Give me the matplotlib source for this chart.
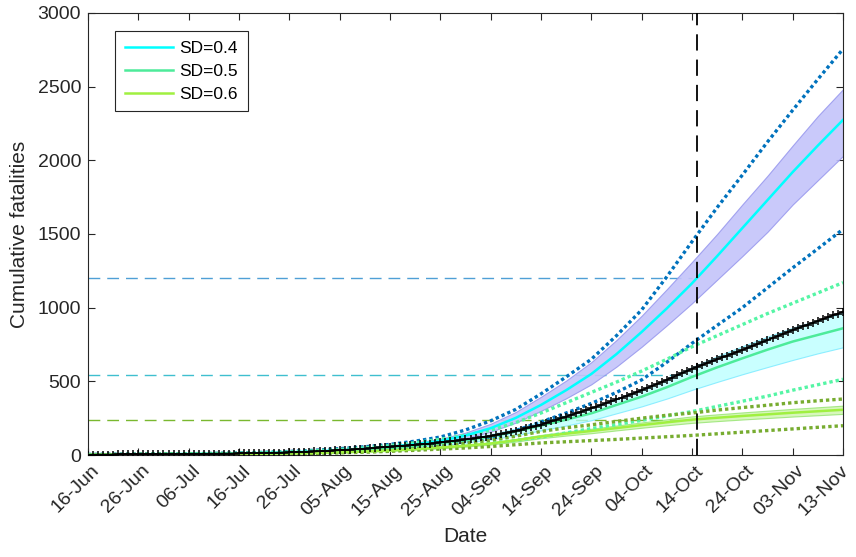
import numpy as np
import pandas as pd
import matplotlib
matplotlib.use("Agg")
import matplotlib.pyplot as plt
import matplotlib.dates as mdates
import matplotlib.transforms as mtransforms

plt.rcParams['font.family'] = ['Liberation Sans', 'DejaVu Sans']

# observed daily cumulative fatalities, 16-Jun .. 13-Nov
obs_start = '2020-06-16'
observed = [
    2, 2, 3, 3, 3, 3, 4, 4, 4, 5,
    5, 5, 5, 6, 6, 6, 6, 7, 7, 7,
    7, 8, 8, 8, 9, 9, 9, 10, 10, 10,
    11, 11, 12, 12, 13, 13, 14, 15, 16, 17,
    18, 19, 20, 22, 23, 24, 26, 27, 29, 31,
    33, 35, 37, 39, 41, 43, 45, 48, 51, 54,
    57, 59, 61, 64, 67, 70, 72, 75, 78, 81,
    85, 89, 93, 97, 101, 106, 110, 115, 120, 125,
    130, 137, 143, 150, 157, 165, 173, 181, 190, 198,
    207, 218, 228, 239, 250, 261, 272, 283, 294, 306,
    317, 329, 341, 353, 365, 377, 389, 402, 414, 427,
    440, 454, 468, 482, 496, 511, 525, 540, 555, 570,
    585, 598, 611, 624, 636, 649, 662, 675, 688, 700,
    713, 726, 740, 753, 767, 780, 794, 807, 821, 834,
    848, 860, 873, 885, 898, 910, 923, 935, 948, 960,
    973,
]

# model curves, every 5 days from 16-Jun
sd04_mean = [3, 4, 5, 6, 7, 9, 11, 14, 18, 24, 32, 42, 56, 73, 95, 132, 182, 252, 340, 440,
             550, 685, 835, 995, 1165, 1350, 1540, 1730, 1920, 2100, 2274]
sd04_hi = [3, 4, 5, 6, 8, 10, 12, 15, 20, 27, 36, 48, 64, 84, 110, 152, 212, 292, 395, 505,
           630, 780, 945, 1125, 1310, 1500, 1700, 1895, 2100, 2300, 2482]
sd04_lo = [2, 3, 4, 5, 6, 8, 10, 12, 16, 21, 28, 37, 49, 64, 83, 115, 158, 220, 300, 385,
           480, 600, 735, 880, 1030, 1190, 1350, 1515, 1700, 1865, 2030]
sd04_pi_hi = [4, 5, 6, 7, 9, 11, 14, 18, 24, 32, 43, 56, 72, 94, 122, 170, 232, 310, 415, 530,
              650, 810, 985, 1210, 1448, 1680, 1900, 2125, 2340, 2550, 2755]
sd04_pi_lo = [2, 3, 4, 5, 6, 7, 9, 11, 14, 18, 24, 31, 40, 52, 68, 88, 115, 165, 225, 285,
              350, 425, 510, 630, 758, 880, 1000, 1135, 1270, 1400, 1532]

sd05_mean = [2, 3, 4, 5, 6, 7, 9, 12, 16, 21, 28, 37, 48, 62, 80, 100, 125, 160, 200, 240,
             283, 340, 396, 460, 530, 595, 656, 715, 770, 815, 860]
sd05_hi = [2, 3, 4, 5, 7, 8, 10, 14, 18, 24, 32, 42, 54, 70, 90, 113, 141, 180, 226, 271,
           320, 384, 446, 518, 597, 670, 738, 803, 864, 915, 965]
sd05_lo = [2, 3, 4, 5, 6, 7, 8, 10, 13, 17, 23, 31, 40, 52, 67, 84, 105, 134, 167, 200,
           236, 283, 330, 383, 442, 496, 548, 597, 645, 690, 731]
sd05_pi_hi = [3, 4, 5, 6, 8, 10, 12, 16, 21, 28, 37, 49, 64, 83, 107, 135, 168, 220, 285, 355,
              425, 495, 570, 650, 735, 810, 885, 960, 1030, 1100, 1170]
sd05_pi_lo = [1, 2, 3, 4, 5, 6, 7, 9, 11, 14, 18, 24, 31, 40, 51, 64, 80, 100, 122, 150,
              180, 207, 235, 265, 295, 330, 365, 400, 440, 477, 514]

sd06_mean = [2, 3, 3, 4, 5, 6, 7, 9, 11, 14, 18, 24, 31, 40, 51, 63, 78, 100, 125, 145,
             163, 183, 203, 222, 240, 253, 265, 276, 287, 297, 307]
sd06_hi = [2, 3, 4, 5, 6, 7, 8, 10, 12, 15, 20, 26, 34, 44, 56, 69, 85, 109, 136, 158,
           178, 200, 221, 242, 262, 276, 289, 301, 313, 324, 335]
sd06_lo = [2, 2, 3, 4, 5, 5, 6, 8, 10, 13, 16, 22, 28, 36, 46, 57, 71, 91, 114, 132,
           148, 167, 185, 202, 218, 230, 241, 251, 261, 270, 279]
sd06_pi_hi = [2, 3, 4, 5, 6, 7, 9, 11, 14, 18, 24, 31, 40, 51, 64, 80, 100, 128, 160, 185,
              205, 228, 250, 270, 285, 305, 322, 338, 355, 368, 380]
sd06_pi_lo = [1, 2, 2, 3, 4, 5, 6, 7, 9, 11, 15, 19, 25, 32, 40, 48, 58, 70, 82, 90,
              98, 106, 115, 124, 133, 144, 155, 166, 177, 188, 199]

ref_levels = [1200, 540, 240]
ref_colors = ['#4f9fd6', '#3fbfcf', '#7ab82f']
cutoff_date = '2020-10-15'
ref_end_date = '2020-10-14'

legend_labels = ['SD=0.4', 'SD=0.5', 'SD=0.6']

days = pd.date_range(obs_start, periods=len(observed), freq='D')
days5 = pd.date_range(obs_start, periods=len(sd04_mean), freq='5D')

fig = plt.figure(figsize=(8.56, 5.57), dpi=100)
ax = fig.add_axes([0.1028, 0.1831, 0.882, 0.7936])

# reference levels
for lvl, c in zip(ref_levels, ref_colors):
    ax.plot([days[0], pd.Timestamp(ref_end_date)], [lvl, lvl], color=c, lw=1.0,
            dashes=(8.5, 5), zorder=1)

# SD=0.6
ax.fill_between(days5, sd06_lo, sd06_hi, facecolor='#c6f5a0', alpha=0.7,
                edgecolor='#88e060', lw=0.8, zorder=2)
# SD=0.5
ax.fill_between(days5, sd05_lo, sd05_hi, facecolor='#b8ffff', alpha=0.75,
                edgecolor='#70e8ff', lw=0.8, zorder=2)
# SD=0.4
ax.fill_between(days5, sd04_lo, sd04_hi, facecolor='#c4c4fa', alpha=0.9,
                edgecolor='#9a9aee', lw=0.8, zorder=2)

dot = (0, (1, 0.9))
ax.plot(days5, sd04_pi_hi, color='#0072bd', lw=2.4, ls=dot, zorder=3)
ax.plot(days5, sd04_pi_lo, color='#0072bd', lw=2.4, ls=dot, zorder=3)
ax.plot(days5, sd05_pi_hi, color='#55f5a5', lw=2.4, ls=dot, zorder=3)
ax.plot(days5, sd05_pi_lo, color='#55f5a5', lw=2.4, ls=dot, zorder=3)
ax.plot(days5, sd06_pi_hi, color='#77ac30', lw=2.4, ls=dot, zorder=3)
ax.plot(days5, sd06_pi_lo, color='#77ac30', lw=2.4, ls=dot, zorder=3)

l1, = ax.plot(days5, sd04_mean, color='#00ffff', lw=1.8, zorder=4)
l2, = ax.plot(days5, sd05_mean, color='#4deb9a', lw=1.8, zorder=4)
l3, = ax.plot(days5, sd06_mean, color='#a0f040', lw=1.8, zorder=4)

ax.plot(days, observed, color='black', lw=1.2, marker='+', ms=6, mew=1.1, zorder=5)

ax.axvline(pd.Timestamp(cutoff_date), color='black', lw=1.3, dashes=(9, 5), zorder=6)

ax.set_xlim(days[0], days[-1])
ax.set_ylim(0, 3000)
ax.set_yticks(np.arange(0, 3001, 500))
ax.set_xticks(days[::10])
ax.xaxis.set_major_formatter(mdates.DateFormatter('%d-%b'))
ax.tick_params(direction='in', length=5, width=0.8, colors='#262626', labelsize=14,
               top=True, right=True, pad=5)
xlabels = ax.get_xticklabels()
for k, lbl in enumerate(xlabels):
    lbl.set_rotation(45)
    lbl.set_ha('right')
    lbl.set_va('top')
    lbl.set_rotation_mode('anchor')
    # last label pulled in a little so it stays inside the canvas
    dx = -3 if k == len(xlabels) - 1 else 3
    shift = mtransforms.ScaledTranslation(dx / 100, 0, fig.dpi_scale_trans)
    lbl.set_transform(lbl.get_transform() + shift)
for s in ax.spines.values():
    s.set_color('#262626')
    s.set_linewidth(0.8)

ax.set_xlabel('Date', fontsize=15, color='#262626', labelpad=6)
ax.set_ylabel('Cumulative fatalities', fontsize=15, color='#262626', labelpad=6)

leg = ax.legend([l1, l2, l3], legend_labels, loc='upper left',
                bbox_to_anchor=(0.036, 0.959), borderaxespad=0, fontsize=12.5,
                handlelength=2.8, fancybox=False, framealpha=1, edgecolor='#262626',
                borderpad=0.55, labelspacing=0.45, handletextpad=0.35)
leg.get_frame().set_linewidth(0.8)

fig.savefig('out.png', dpi=100)
